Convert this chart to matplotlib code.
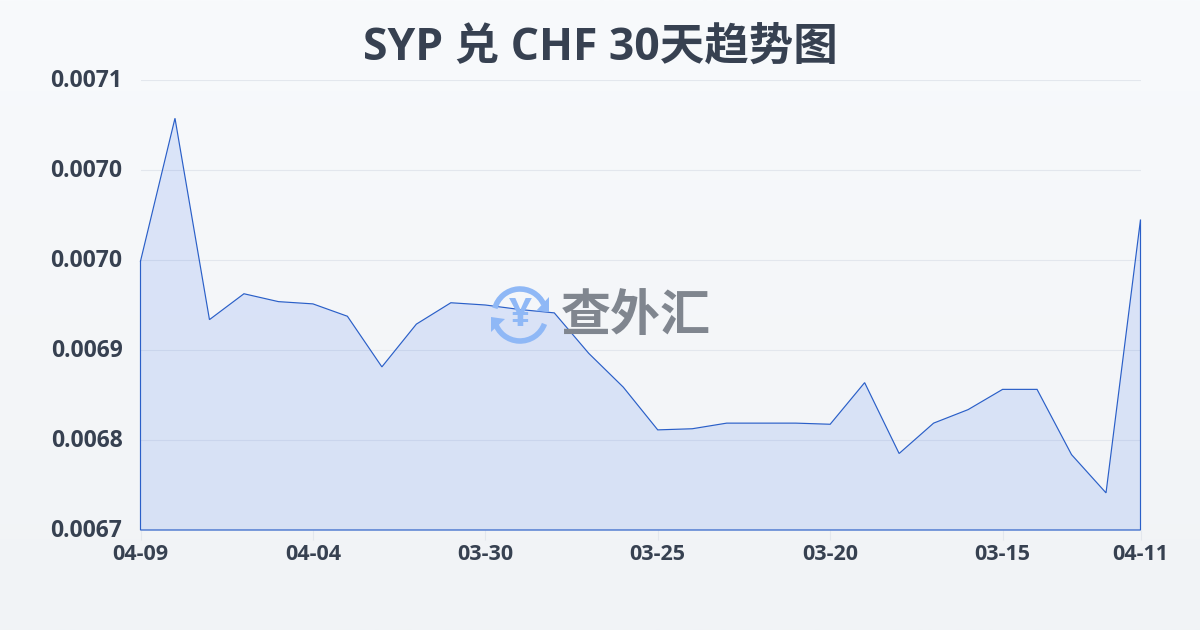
import numpy as np
import matplotlib
matplotlib.use('Agg')
import matplotlib.pyplot as plt
from matplotlib.patches import Arc, Polygon
from matplotlib.ticker import FormatStrFormatter
from matplotlib.colors import to_rgba
from matplotlib.transforms import ScaledTranslation

plt.rcParams['font.family'] = ['Open Sans', 'Noto Sans CJK SC', 'DejaVu Sans']

title = 'SYP 兑 CHF 30天趋势图'
rates = [0.006959, 0.007086, 0.006907, 0.006930, 0.006923, 0.006921, 0.006910, 0.006865,
         0.006903, 0.006922, 0.006920, 0.006916, 0.006913, 0.006877, 0.006847, 0.006809,
         0.006810, 0.006815, 0.006815, 0.006815, 0.006814, 0.006851, 0.006788, 0.006815,
         0.006827, 0.006845, 0.006845, 0.006787, 0.006753, 0.006996]
x_ticks = [0, 5, 10, 15, 20, 25, 29]
x_labels = ['04-09', '04-04', '03-30', '03-25', '03-20', '03-15', '04-11']
y_ticks = [0.00672, 0.00680, 0.00688, 0.00696, 0.00704, 0.00712]

W, H = 1200, 630
TEXT = '#374151'
BLUE = '#2a5fc8'
GRID = '#e3e7ed'

fig = plt.figure(figsize=(W / 100, H / 100), dpi=100)

# background gradient
bg = fig.add_axes([0, 0, 1, 1], zorder=0)
bg.axis('off')
top, bottom = np.array(to_rgba('#f8fafc')), np.array(to_rgba('#f1f3f6'))
grad = np.linspace(0, 1, 256)[:, None, None] * (bottom - top) + top
bg.imshow(grad, aspect='auto', extent=[0, 1, 0, 1])

ax = fig.add_axes([140.5 / W, 1 - 530 / H, 1000 / W, 450 / H], zorder=1)
ax.patch.set_alpha(0)
x = np.arange(len(rates))
ax.fill_between(x, rates, y_ticks[0], facecolor='#2563eb', alpha=0.13, linewidth=0)
ax.plot(np.r_[x, x[-1], x[0], x[0]], np.r_[rates, y_ticks[0], y_ticks[0], rates[0]],
        color=BLUE, lw=0.85, solid_joinstyle='miter', clip_on=False)
ax.set_xlim(0, 29)
ax.set_ylim(y_ticks[0], y_ticks[-1])
ax.set_xticks(x_ticks, x_labels)
ax.set_yticks(y_ticks)
ax.yaxis.set_major_formatter(FormatStrFormatter('%.4f'))
ax.grid(axis='y', color=GRID, lw=0.8)
ax.set_axisbelow(True)
for s in ax.spines.values():
    s.set_visible(False)
ax.tick_params(axis='y', length=0, pad=13, labelsize=16.5, labelcolor=TEXT)
ax.tick_params(axis='x', length=7, width=0.8, color=GRID, pad=3, labelsize=15.5, labelcolor=TEXT)
for t in ax.get_xticklabels() + ax.get_yticklabels():
    t.set_fontweight('bold')
# y labels sit slightly above their grid lines
up = ScaledTranslation(0, 2 / 100, fig.dpi_scale_trans)
for tick in ax.yaxis.get_major_ticks():
    tick.label1.set_transform(tick.label1.get_transform() + up)

fig.text(600 / W, 1 - 48 / H, title, ha='center', va='center', fontsize=32,
         fontweight='bold', color=TEXT)

# watermark logo, drawn in pixel coordinates
wm = fig.add_axes([0, 0, 1, 1], zorder=2)
wm.set_xlim(0, W)
wm.set_ylim(H, 0)
wm.axis('off')
LOGO = '#8fb8f6'
cx, cy = 520, 315
wm.add_patch(Arc((cx, cy), 52, 52, theta1=195, theta2=335, color=LOGO, lw=4))
wm.add_patch(Arc((cx, cy), 52, 52, theta1=20, theta2=165, color=LOGO, lw=4))
wm.add_patch(Polygon([[549, 297], [549, 312], [536, 311]], closed=True, color=LOGO, lw=0))
wm.add_patch(Polygon([[491, 317], [505, 319], [491, 332]], closed=True, color=LOGO, lw=0))
wm.text(cx, cy, '¥', ha='center', va='center', fontsize=29, fontweight='bold', color=LOGO)
wm.text(636, 318, '查外汇', ha='center', va='center', fontsize=36, fontweight='bold', color='#80868f')

fig.savefig('out.png', dpi=100)
